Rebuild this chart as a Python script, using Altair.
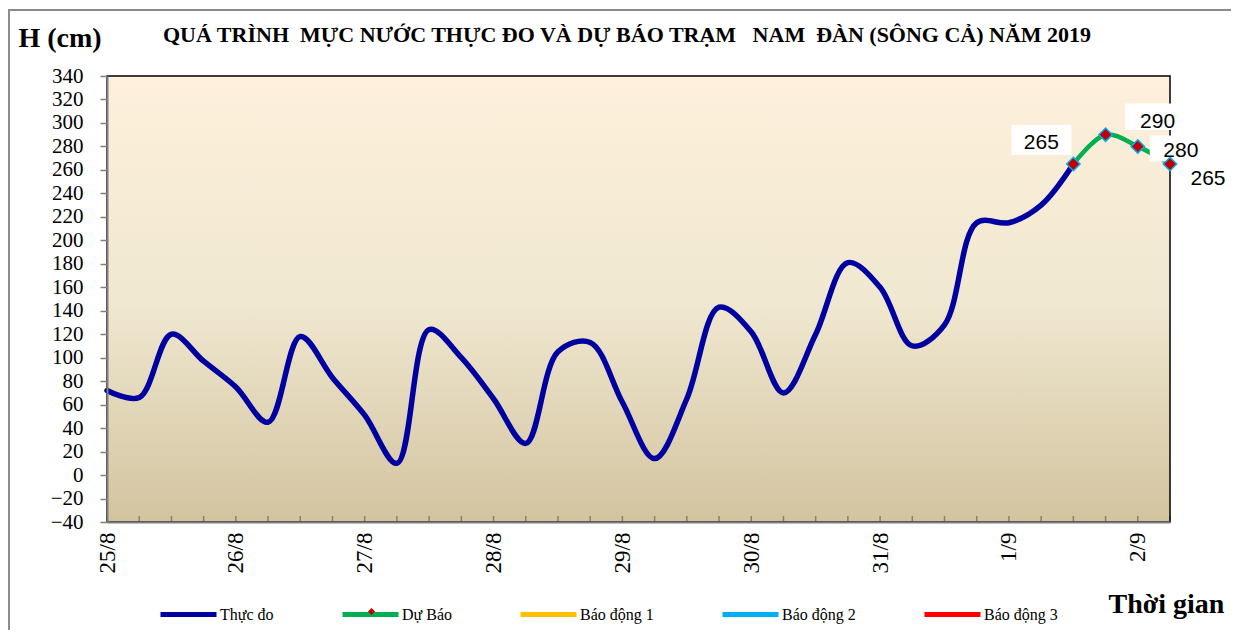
import altair as alt
import pandas as pd

# ---------------- data ----------------
day_labels = ["25/8", "26/8", "27/8", "28/8", "29/8", "30/8", "31/8", "1/9", "2/9"]
steps_per_day = 4  # observations every 6 hours

# observed water level (cm), one value every 6 h starting 25/8
observed = [72, 66, 120, 97, 75, 45, 118, 83, 51, 10, 124, 100, 65, 27, 105, 113,
            62, 14, 65, 143, 122, 70, 120, 181, 160, 110, 128, 215, 215, 230, 265]
# forecast (cm), starting at the last observation
forecast = [265, 290, 280, 265]

series_names = ["Thực đo", "Dự Báo", "Báo động 1", "Báo động 2", "Báo động 3"]
series_colors = ["#0000A0", "#00B050", "#FFC000", "#00B0F0", "#FF0000"]

NB = "\u00a0"
title_text = ("QUÁ TRÌNH" + NB * 2 + "MỰC NƯỚC THỰC ĐO VÀ DỰ BÁO TRẠM" + NB * 3
              + "NAM" + NB * 2 + "ĐÀN (SÔNG CẢ) NĂM 2019")

# ---------------- tables ----------------
n_obs = len(observed)
obs_df = pd.DataFrame({"t": list(range(n_obs)), "h": observed, "series": series_names[0]})
fc_start = n_obs - 1
fc_df = pd.DataFrame({
    "t": list(range(fc_start, fc_start + len(forecast))),
    "h": forecast,
    "series": series_names[1],
    "marker": series_names[1],
})
fc_df["label"] = fc_df["h"].astype(str)
n_total = fc_start + len(forecast)
tick_df = pd.DataFrame({"t": list(range(n_total))})
one_row = pd.DataFrame({"a": [0]})

W, H = 1063, 446
SERIF = "Liberation Serif"
SANS = "Liberation Sans"

label_expr = "[" + ",".join(f"'{d}'" for d in day_labels) + "][round(datum.value/%d)]" % steps_per_day

x_scale = alt.Scale(domain=[0, n_total - 1], nice=False, zero=False)
y_scale = alt.Scale(domain=[-40, 340], nice=False, zero=False)

x_axis = alt.Axis(
    values=[i * steps_per_day for i in range(len(day_labels))],
    labelExpr=label_expr, labelAngle=270, labelFont=SERIF, labelFontSize=23,
    labelColor="black", labelPadding=10, tickSize=0, domainColor="#808080",
    domainWidth=2, grid=False, labelOverlap=False, title="Thời gian", titleFont=SERIF,
    titleFontSize=28, titleFontWeight="bold", titleColor="black", titleAngle=0,
    titleX=1001, titleY=82, titleAlign="left", titleBaseline="middle", zindex=1,
)
y_axis = alt.Axis(
    values=list(range(-40, 341, 20)), tickSize=7, tickColor="#808080", tickWidth=1.5,
    domainColor="#808080", domainWidth=2, labelFont=SERIF, labelFontSize=21,
    labelColor="black", labelPadding=17, labelOverlap=False, labelFlush=False,
    grid=False, title="H (cm)", titleAngle=0,
    titleX=-89, titleY=-38, titleAlign="left", titleBaseline="middle", titleFont=SERIF,
    titleFontSize=28, titleFontWeight="bold", titleColor="black", zindex=1,
)

X = alt.X("t:Q", scale=x_scale, axis=x_axis)
Y = alt.Y("h:Q", scale=y_scale, axis=y_axis)

color_enc = alt.Color(
    "series:N",
    scale=alt.Scale(domain=series_names, range=series_colors),
    legend=alt.Legend(
        orient="none", legendX=51, legendY=508, direction="horizontal",
        title=None, symbolType="stroke", symbolSize=3136, symbolStrokeWidth=5,
        labelFont=SERIF, labelFontSize=16, labelColor="black", labelOffset=1,
        columnPadding=58, gridAlign="none", padding=0,
    ),
)

# background gradient of the plot area
bg = alt.Chart(one_row).mark_rect(
    fill=alt.LinearGradient(
        gradient="linear", x1=0, x2=0, y1=0, y2=1,
        stops=[alt.GradientStop(color="#FEF0DC", offset=0),
               alt.GradientStop(color="#F0E8D1", offset=0.5),
               alt.GradientStop(color="#D3C4A0", offset=1)],
    )
).encode(x=alt.value(0), x2=alt.value(W), y=alt.value(0), y2=alt.value(H))

outer = alt.Chart(one_row).mark_rect(
    fillOpacity=0, stroke="#8C8C8C", strokeWidth=2
).encode(x=alt.value(-98), x2=alt.value(W + 300), y=alt.value(-66), y2=alt.value(H + 300))

frame = alt.Chart(one_row).mark_rect(
    fillOpacity=0, stroke="black", strokeWidth=1.5
).encode(x=alt.value(0), x2=alt.value(W), y=alt.value(0), y2=alt.value(H))

ticks = alt.Chart(tick_df).mark_rule(color="#808080", strokeWidth=1.5).encode(
    x=X, y=alt.value(H - 6), y2=alt.value(H),
)

title_mark = alt.Chart(one_row).mark_text(
    text=title_text, font=SERIF, fontSize=22, fontWeight="bold", color="black",
    align="center", baseline="middle",
).encode(x=alt.value(520), y=alt.value(-41))

line_obs = alt.Chart(obs_df).mark_line(
    interpolate="catmull-rom", strokeWidth=5.5, strokeJoin="round", strokeCap="round"
).encode(x=X, y=Y, color=color_enc)

line_fc = alt.Chart(fc_df).mark_line(
    interpolate="catmull-rom", strokeWidth=4.5, strokeJoin="round", strokeCap="round"
).encode(x=X, y=Y, color=color_enc)

# white label boxes and label text offsets (style, per label)
box_style = [(-32, -24, 60), (46, -18, 53), (38, 2, 52)]
text_offsets = [(-32, -21), (52, -13), (43, 5), (38, 15)]
box_path = "M-1,-0.5H1V0.5H-1Z"

boxes = []
for i, (bx, by, bw) in enumerate(box_style):
    boxes.append(
        alt.Chart(fc_df.iloc[[i]]).mark_point(
            shape=box_path, filled=True, color="white", opacity=1,
            size=bw * bw, xOffset=bx, yOffset=by,
        ).encode(x=X, y=Y)
    )

markers = alt.Chart(fc_df).mark_point(
    filled=True, fill="#C00000", stroke="#00B0F0", strokeWidth=1.5, size=180, opacity=1
).encode(
    x=X, y=Y,
    shape=alt.Shape(
        "marker:N",
        scale=alt.Scale(domain=[series_names[1]], range=["diamond"]),
        legend=alt.Legend(
            orient="none", legendX=260, legendY=531, title=None, labelExpr="''",
            symbolFillColor="#C00000", symbolStrokeColor="#00B0F0", symbolSize=50,
            symbolStrokeWidth=1.5, padding=0, labelFontSize=1,
        ),
    ),
)

texts = []
for i, (dx, dy) in enumerate(text_offsets):
    texts.append(
        alt.Chart(fc_df.iloc[[i]]).mark_text(
            font=SANS, fontSize=21, color="black", dx=dx, dy=dy, baseline="middle"
        ).encode(x=X, y=Y, text="label:N")
    )

chart = alt.layer(
    bg, outer, ticks, title_mark, line_obs, line_fc, frame, *boxes, markers, *texts
).properties(
    width=W, height=H,
    padding={"left": 99, "top": 68, "right": 61, "bottom": 108},
    autosize=alt.AutoSizeParams(type="none"),
    background="white",
).configure_view(stroke=None)

chart.save("out.html", embed_options={"renderer": "svg", "actions": False})
